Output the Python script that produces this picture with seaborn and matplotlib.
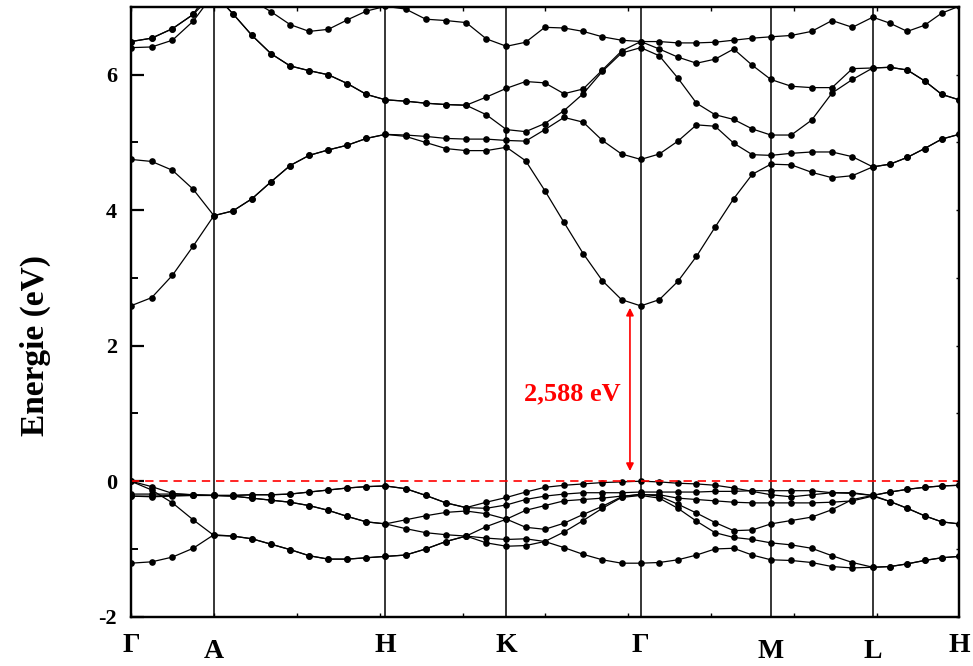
import numpy as np
import pandas as pd
import matplotlib
matplotlib.use('Agg')
import matplotlib.pyplot as plt
import matplotlib.transforms as mtransforms
from matplotlib.ticker import MultipleLocator, FixedLocator
import seaborn as sns

# high-symmetry points along the k-path and number of intervals between them
node_labels = ['Γ', 'A', 'H', 'K', 'Γ', 'M', 'L', 'H']
node_pos = [0.0, 1.0, 3.07, 4.53, 6.15, 7.72, 8.95, 9.99]
seg_steps = [4, 9, 6, 7, 7, 5, 5]

y_ticks = [-2, 0, 2, 4, 6]
y_tick_labels = ['-2', '0', '2', '4', '6']

# conduction bands (eV), 44 k-points each
c1 = [2.59, 2.71, 3.04, 3.47, 3.92,
      3.99, 4.17, 4.42, 4.66, 4.81, 4.89, 4.96, 5.06, 5.12,
      5.09, 5.00, 4.91, 4.88, 4.88, 4.93,
      4.73, 4.29, 3.82, 3.36, 2.96, 2.68, 2.588,
      2.68, 2.95, 3.32, 3.75, 4.17, 4.53, 4.68,
      4.67, 4.56, 4.48, 4.51, 4.64,
      4.68, 4.78, 4.91, 5.05, 5.12]
c2 = [4.75, 4.72, 4.59, 4.31, 3.92,
      3.99, 4.17, 4.42, 4.66, 4.81, 4.89, 4.96, 5.06, 5.12,
      5.11, 5.09, 5.06, 5.05, 5.05, 5.03,
      5.02, 5.19, 5.37, 5.30, 5.03, 4.83, 4.75,
      4.83, 5.02, 5.26, 5.24, 4.99, 4.82, 4.81,
      4.84, 4.86, 4.86, 4.79, 4.64,
      4.68, 4.78, 4.91, 5.05, 5.12]
c3 = [6.40, 6.41, 6.51, 6.79, 7.20,
      6.90, 6.58, 6.31, 6.13, 6.06, 6.00, 5.87, 5.71, 5.63,
      5.61, 5.58, 5.56, 5.55, 5.41, 5.19,
      5.16, 5.28, 5.47, 5.72, 6.05, 6.32, 6.40,
      6.28, 5.95, 5.58, 5.41, 5.34, 5.20, 5.11,
      5.11, 5.33, 5.73, 5.93, 6.10,
      6.11, 6.07, 5.91, 5.71, 5.63]
c4 = [6.49, 6.54, 6.68, 6.89, 7.20,
      6.90, 6.58, 6.31, 6.13, 6.06, 6.00, 5.87, 5.71, 5.63,
      5.61, 5.58, 5.56, 5.55, 5.67, 5.80,
      5.90, 5.88, 5.72, 5.79, 6.07, 6.35, 6.49,
      6.38, 6.26, 6.17, 6.23, 6.38, 6.14, 5.93,
      5.83, 5.81, 5.81, 6.09, 6.10,
      6.11, 6.07, 5.91, 5.71, 5.63]
c5 = [6.49, 6.54, 6.68, 6.89, 7.35,
      7.30, 7.10, 6.93, 6.74, 6.64, 6.67, 6.81, 6.94, 7.01,
      6.97, 6.82, 6.80, 6.77, 6.53, 6.42,
      6.48, 6.70, 6.69, 6.64, 6.56, 6.51, 6.49,
      6.49, 6.47, 6.47, 6.48, 6.51, 6.54, 6.56,
      6.58, 6.64, 6.80, 6.70, 6.85,
      6.76, 6.64, 6.73, 6.91, 7.01]

# valence bands (eV)
v1 = [0.00, -0.08, -0.18, -0.20, -0.21,
      -0.21, -0.20, -0.20, -0.19, -0.16, -0.13, -0.10, -0.08, -0.07,
      -0.11, -0.21, -0.32, -0.39, -0.31, -0.24,
      -0.16, -0.09, -0.06, -0.04, -0.02, -0.01, 0.00,
      -0.01, -0.03, -0.04, -0.06, -0.10, -0.15, -0.20,
      -0.23, -0.20, -0.17, -0.17, -0.21,
      -0.16, -0.12, -0.09, -0.07, -0.06]
v2 = [0.00, -0.13, -0.32, -0.57, -0.80,
      -0.81, -0.85, -0.93, -1.01, -1.10, -1.15, -1.15, -1.13, -1.11,
      -1.09, -1.00, -0.89, -0.81, -0.67, -0.56,
      -0.43, -0.36, -0.29, -0.27, -0.25, -0.22, -0.20,
      -0.20, -0.25, -0.27, -0.29, -0.31, -0.32, -0.32,
      -0.32, -0.32, -0.31, -0.29, -0.22,
      -0.30, -0.40, -0.51, -0.60, -0.63]
v3 = [-0.19, -0.19, -0.19, -0.20, -0.21,
      -0.21, -0.20, -0.20, -0.19, -0.16, -0.13, -0.10, -0.08, -0.07,
      -0.11, -0.21, -0.32, -0.39, -0.40, -0.35,
      -0.27, -0.22, -0.19, -0.17, -0.17, -0.17, -0.16,
      -0.16, -0.16, -0.16, -0.15, -0.15, -0.14, -0.14,
      -0.14, -0.14, -0.17, -0.18, -0.21,
      -0.16, -0.12, -0.09, -0.07, -0.06]
v4 = [-0.22, -0.22, -0.21, -0.21, -0.21,
      -0.22, -0.25, -0.28, -0.31, -0.36, -0.43, -0.52, -0.60, -0.63,
      -0.57, -0.51, -0.46, -0.44, -0.48, -0.56,
      -0.68, -0.71, -0.62, -0.49, -0.37, -0.23, -0.19,
      -0.22, -0.34, -0.47, -0.61, -0.73, -0.72, -0.63,
      -0.58, -0.53, -0.42, -0.27, -0.21,
      -0.30, -0.40, -0.51, -0.60, -0.63]
v5 = [-0.22, -0.23, -0.22, -0.21, -0.21,
      -0.22, -0.25, -0.28, -0.31, -0.36, -0.43, -0.52, -0.60, -0.63,
      -0.70, -0.76, -0.79, -0.81, -0.84, -0.86,
      -0.85, -0.89, -0.98, -1.08, -1.16, -1.21, -1.21,
      -1.20, -1.16, -1.09, -1.00, -0.99, -1.09, -1.16,
      -1.17, -1.20, -1.26, -1.28, -1.27,
      -1.26, -1.22, -1.17, -1.13, -1.11]
v6 = [-1.21, -1.19, -1.12, -0.99, -0.79,
      -0.81, -0.85, -0.93, -1.01, -1.10, -1.15, -1.15, -1.13, -1.11,
      -1.09, -1.00, -0.89, -0.81, -0.91, -0.96,
      -0.95, -0.89, -0.75, -0.58, -0.40, -0.24, -0.21,
      -0.25, -0.40, -0.59, -0.76, -0.83, -0.86, -0.91,
      -0.94, -0.99, -1.10, -1.20, -1.27,
      -1.26, -1.22, -1.17, -1.13, -1.11]

gap = 2.588

# k grid along the path
k = [node_pos[0]]
for i, n in enumerate(seg_steps):
    k += list(np.linspace(node_pos[i], node_pos[i + 1], n + 1)[1:])
k = np.array(k)

bands = {'c1': c1, 'c2': c2, 'c3': c3, 'c4': c4, 'c5': c5,
         'v1': v1, 'v2': v2, 'v3': v3, 'v4': v4, 'v5': v5, 'v6': v6}
df = pd.concat([pd.DataFrame({'k': k, 'E': vals, 'band': name})
                for name, vals in bands.items()], ignore_index=True)

sns.set_style('ticks')
plt.rcParams['font.family'] = ['Liberation Serif', 'DejaVu Serif']
plt.rcParams['font.weight'] = 'bold'
plt.rcParams['axes.unicode_minus'] = False
for key in ['text.color', 'axes.labelcolor', 'axes.edgecolor',
            'xtick.color', 'ytick.color']:
    plt.rcParams[key] = 'black'

fig = plt.figure(figsize=(9.73, 6.66), dpi=100)
ax = fig.add_axes([131 / 973, 1 - 616.7 / 666, (959 - 131) / 973, (616.7 - 7) / 666])

sns.lineplot(data=df, x='k', y='E', units='band', estimator=None, sort=False,
             color='black', linewidth=0.9, marker='o', markersize=4.8,
             markeredgewidth=0, ax=ax, legend=False)

for x in node_pos[1:-1]:
    ax.axvline(x, color='black', linewidth=1.1, zorder=1)
ax.axhline(0, color='red', linestyle=(0, (5, 3.5)), linewidth=1.2, zorder=3)

# band gap arrow and label
ax.annotate('', xy=(6.02, 2.56), xytext=(6.02, 0.15),
            arrowprops=dict(arrowstyle='<|-|>', color='red', lw=1.2,
                            mutation_scale=11, shrinkA=0, shrinkB=0))
ax.text(5.32, 1.29, f'{gap:.3f}'.replace('.', ',') + ' eV', color='red',
        fontsize=19, fontweight='bold', ha='center', va='center')

ax.set_xlim(node_pos[0], node_pos[-1])
ax.set_ylim(-2, 7)
ax.set_xlabel('')
ax.set_ylabel('')

# k-point labels below the axis
trans = mtransforms.blended_transform_factory(ax.transData, fig.transFigure)
label_y = [645, 652, 645, 645, 645, 651, 651, 645]
for x, lab, yp in zip(node_pos, node_labels, label_y):
    ax.text(x, 1 - yp / 666, lab, transform=trans, ha='center', va='center',
            fontsize=20, fontweight='bold')

ax.xaxis.set_major_locator(FixedLocator([]))
ax.xaxis.set_minor_locator(MultipleLocator(1))
ax.tick_params(axis='x', which='minor', direction='in', length=3, width=1,
               top=True, bottom=True)

ax.set_yticks(y_ticks)
ax.set_yticklabels(y_tick_labels, fontsize=16, fontweight='bold')
ax.yaxis.set_minor_locator(MultipleLocator(1))
ax.tick_params(axis='y', which='major', direction='in', length=9, width=1.6,
               pad=10, right=False)
ax.tick_params(axis='y', which='minor', direction='in', length=5, width=1.4,
               right=False)

# tiny ticks on the right spine
ax2 = ax.twinx()
ax2.set_ylim(-2, 7)
ax2.yaxis.set_major_locator(MultipleLocator(1))
ax2.tick_params(axis='y', direction='in', length=2, width=1, labelright=False)
ax2.set_ylabel('')

for a in (ax, ax2):
    for s in a.spines.values():
        s.set_linewidth(1.6)
        s.set_color('black')

fig.text(35 / 973, 1 - 345 / 666, 'Energie (eV)', rotation=90, ha='center',
         va='center', fontsize=24, fontweight='bold')

fig.savefig('out.png', dpi=100)
